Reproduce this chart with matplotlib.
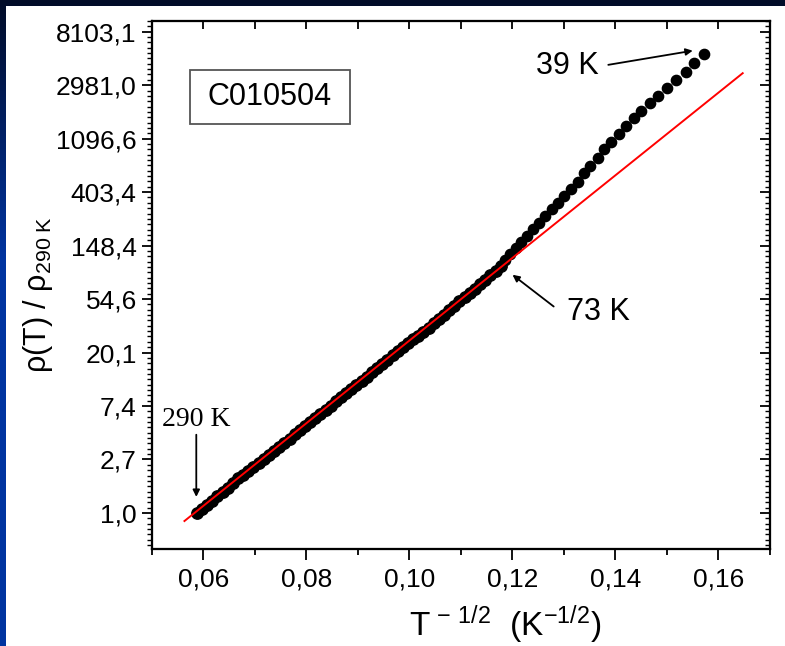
import numpy as np
import matplotlib
matplotlib.use("Agg")
import matplotlib.pyplot as plt
from matplotlib.patches import Rectangle

plt.rcParams['font.family'] = 'Liberation Sans'
plt.rcParams['mathtext.fontset'] = 'custom'
plt.rcParams['mathtext.rm'] = 'Liberation Sans'
plt.rcParams['mathtext.it'] = 'Liberation Sans:italic'

# dense part of the curve (290 K down to ~73 K), T^-1/2 vs rho/rho290
x_band = [0.0587, 0.0597, 0.0607, 0.0617, 0.0627, 0.0637, 0.0647, 0.0657, 0.0667, 0.0677,
          0.0687, 0.0697, 0.0707, 0.0717, 0.0727, 0.0737, 0.0747, 0.0757, 0.0767, 0.0777,
          0.0787, 0.0797, 0.0807, 0.0817, 0.0827, 0.0837, 0.0847, 0.0857, 0.0867, 0.0877,
          0.0887, 0.0897, 0.0907, 0.0917, 0.0927, 0.0937, 0.0947, 0.0957, 0.0967, 0.0977,
          0.0987, 0.0997, 0.1007, 0.1017, 0.1027, 0.1037, 0.1047, 0.1057, 0.1067, 0.1077,
          0.1087, 0.1097, 0.1107, 0.1117, 0.1127, 0.1137, 0.1147, 0.1157, 0.1167, 0.1177]
y_band = [1.000, 1.082, 1.170, 1.262, 1.365, 1.478, 1.600, 1.760, 1.905, 2.050,
          2.190, 2.350, 2.530, 2.730, 2.950, 3.190, 3.440, 3.720, 4.020, 4.340,
          4.690, 5.070, 5.480, 5.920, 6.390, 6.900, 7.460, 8.060, 8.710, 9.410,
          10.16, 10.98, 11.86, 12.82, 13.85, 14.96, 16.16, 17.60, 19.20, 20.80,
          22.40, 24.00, 25.70, 27.50, 29.50, 31.90, 34.60, 37.60, 40.90, 44.40,
          48.20, 52.20, 56.50, 61.10, 66.20, 72.50, 78.50, 85.20, 92.50, 100.5]

# low temperature part, individual points (73 K down to 39 K)
x_low = [0.1185, 0.1195, 0.1206, 0.1217, 0.1228, 0.1240, 0.1252, 0.1264, 0.1276, 0.1288,
         0.1300, 0.1314, 0.1327, 0.1338, 0.1351, 0.1366, 0.1377, 0.1392, 0.1406, 0.1421,
         0.1436, 0.1450, 0.1467, 0.1483, 0.1500, 0.1518, 0.1536, 0.1553, 0.1571]
y_low = [113, 128, 143, 159, 179, 202, 228, 257, 292, 330,
         375, 430, 490, 573, 660, 762, 896, 1033, 1193, 1393,
         1618, 1834, 2117, 2440, 2801, 3271, 3823, 4520, 5290]

# linear fit ln(rho) vs T^-1/2
fit_x = [0.0563, 0.1647]
fit_y = [0.86, 3730]

x_ticks = [0.06, 0.08, 0.10, 0.12, 0.14, 0.16]
x_labels = ['0,06', '0,08', '0,10', '0,12', '0,14', '0,16']
x_minor = [0.05, 0.07, 0.09, 0.11, 0.13, 0.15, 0.17]
y_exp = [0, 1, 2, 3, 4, 5, 6, 7, 8, 9]
y_labels = ['1,0', '2,7', '7,4', '20,1', '54,6', '148,4', '403,4', '1096,6', '2981,0', '8103,1']

W, H = 785, 646
fig = plt.figure(figsize=(W / 100, H / 100), dpi=100)

# dark blue slide background with white panel
bg = fig.add_axes([0, 0, 1, 1])
bg.axis('off')
t = np.clip(np.linspace(0, 1, 300) / 0.4, 0, 1)[:, None]
top = np.array([2, 12, 40]) / 255
bot = np.array([0, 52, 160]) / 255
grad = (top * (1 - t) + bot * t)[:, None, :] * np.ones((1, 2, 1))
bg.imshow(grad, extent=[0, 1, 0, 1], aspect='auto', zorder=0)
bg.add_patch(Rectangle((6 / W, 0), 1, 1 - 6 / H, facecolor='white', edgecolor='none', zorder=1))
bg.set_xlim(0, 1)
bg.set_ylim(0, 1)

ax = fig.add_axes([152 / W, 1 - 549 / H, (770 - 152) / W, (549 - 21) / H])
ax.set_yscale('log')
ax.set_xlim(0.05, 0.17)
ax.set_ylim(np.exp(-0.674), np.exp(9.2))

ax.plot(x_band, y_band, 'o', color='black', ms=8.2, mec='black', zorder=3)
ax.plot(x_low, y_low, 'o', color='black', ms=7.4, mec='black', zorder=3)
ax.plot(fit_x, fit_y, color='#ff0000', lw=1.4, zorder=4)

y_major = [np.exp(k) for k in y_exp]
y_minor = [np.exp(k + j / 10) for k in range(-1, 10) for j in range(1, 10)]
y_minor = [v for v in y_minor if np.exp(-0.674) <= v <= np.exp(9.2)]

ax.set_xticks(x_ticks)
ax.set_xticklabels(x_labels)
ax.set_xticks(x_minor, minor=True)
ax.set_yticks(y_major)
ax.set_yticklabels(y_labels)
ax.set_yticks(y_minor, minor=True)
ax.yaxis.set_minor_formatter(plt.NullFormatter())
ax.tick_params(axis='x', which='major', direction='out', length=8, width=1.3, labelsize=19, pad=5)
ax.tick_params(axis='x', which='minor', direction='out', length=4.5, width=1.3)
ax.tick_params(axis='y', which='major', direction='out', length=7, width=1.3, labelsize=19, pad=4)
ax.tick_params(axis='y', which='minor', direction='out', length=3.5, width=1.0)
for s in ax.spines.values():
    s.set_linewidth(1.5)

# mirrored inward ticks on top and right
axr = ax.twinx()
axr.set_yscale('log')
axr.set_ylim(ax.get_ylim())
axr.set_yticks(y_major)
axr.set_yticks(y_minor, minor=True)
axr.tick_params(axis='y', which='major', direction='in', length=7, width=1.3, labelright=False)
axr.tick_params(axis='y', which='minor', direction='in', length=3.5, width=1.0, labelright=False)
axt = ax.twiny()
axt.set_xlim(ax.get_xlim())
axt.set_xticks(x_ticks)
axt.set_xticks(x_minor, minor=True)
axt.tick_params(axis='x', which='both', direction='in', length=6, width=1.3, labeltop=False)
for a in (axr, axt):
    for s in a.spines.values():
        s.set_linewidth(1.5)

# axis titles
fig.text(38 / W, 1 - 295 / H, r'ρ(T) / ρ$_{\mathrm{290\ K}}$', rotation=90,
         ha='center', va='center', fontsize=22)
fig.text(505 / W, 1 - 636 / H, r'T$^{\,-\,1/2}$  (K$^{-1/2}$)',
         ha='center', va='baseline', fontsize=24)

# sample label box
axt.add_patch(Rectangle((190 / W, 1 - 124 / H), 160 / W, 54 / H, facecolor='white',
                        edgecolor='#555555', lw=1.3, zorder=5, transform=fig.transFigure))
axt.text(270 / W, 1 - 97 / H, 'C010504', ha='center', va='center', fontsize=22, zorder=6,
         transform=fig.transFigure)

arrow = dict(arrowstyle='-|>', color='black', lw=1.3, mutation_scale=10, shrinkA=0, shrinkB=0)
ax.annotate('290 K', xy=(0.0586, 1.35), xytext=(0.0586, 4.55), arrowprops=arrow,
            ha='center', va='bottom', fontsize=20, family='Liberation Serif')
ax.annotate('', xy=(0.1550, 5680), xytext=(0.1386, 4360), arrowprops=arrow)
ax.text(0.1307, 4290, '39 K', ha='center', va='center', fontsize=22)
ax.annotate('', xy=(0.1200, 86.0), xytext=(0.1280, 47.5), arrowprops=arrow)
ax.text(0.1367, 43.0, '73 K', ha='center', va='center', fontsize=22)

fig.savefig('out.png', dpi=100)
